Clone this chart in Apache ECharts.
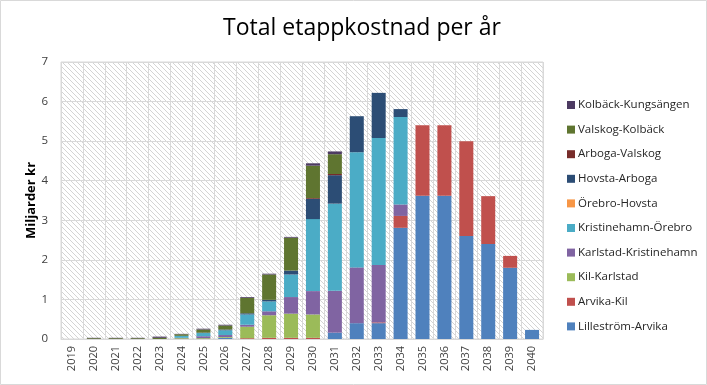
<!DOCTYPE html>
<html><head><meta charset="utf-8">
<script src="https://cdn.jsdelivr.net/npm/echarts@6/dist/echarts.min.js"></script>
<style>html,body{margin:0;padding:0;background:#fff}#c{width:707px;height:385px}</style>
</head><body><div id="c"></div>
<script>
var years = ['2019','2020','2021','2022','2023','2024','2025','2026','2027','2028','2029','2030','2031','2032','2033','2034','2035','2036','2037','2038','2039','2040'];
var yTicks = [0,1,2,3,4,5,6,7];
//                          2019 2020 2021 2022 2023 2024 2025 2026 2027 2028 2029 2030 2031 2032 2033 2034 2035 2036 2037 2038 2039 2040
var lillestromArvika      = [0,   0,   0,   0,   0,   0,   0,   0.03,0,   0,   0,   0,   0.16,0.4, 0.4, 2.81,3.62,3.62,2.6, 2.4, 1.8, 0.23];
var arvikaKil             = [0,   0,   0,   0,   0,   0,   0,   0,   0.02,0.03,0.03,0.03,0,   0,   0.02,0.3, 1.78,1.78,2.4, 1.21,0.3, 0];
var kilKarlstad           = [0,   0,   0,   0,   0,   0.02,0.02,0.02,0.29,0.57,0.61,0.59,0,   0,   0,   0,   0,   0,   0,   0,   0,   0];
var karlstadKristinehamn  = [0,   0,   0,   0,   0,   0.01,0.05,0.05,0.05,0.1, 0.42,0.59,1.06,1.41,1.45,0.29,0,   0,   0,   0,   0,   0];
var kristinehamnOrebro    = [0,   0,   0,   0,   0,   0.05,0.08,0.12,0.26,0.25,0.57,1.82,2.2, 2.91,3.21,2.21,0,   0,   0,   0,   0,   0];
var orebroHovsta          = [0,   0,   0,   0,   0,   0,   0,   0,   0,   0,   0,   0,   0,   0,   0,   0,   0,   0,   0,   0,   0,   0];
var hovstaArboga          = [0,   0,   0,   0,   0,   0,   0.01,0.02,0.03,0.04,0.1, 0.51,0.72,0.91,1.14,0.2, 0,   0,   0,   0,   0,   0];
var arbogaValskog         = [0,   0,   0,   0,   0,   0,   0,   0,   0,   0,   0,   0.02,0.03,0,   0,   0,   0,   0,   0,   0,   0,   0];
var valskogKolback        = [0,   0.02,0.02,0.02,0.03,0.04,0.08,0.1, 0.39,0.64,0.83,0.82,0.5, 0,   0,   0,   0,   0,   0,   0,   0,   0];
var kolbackKungsangen     = [0,   0.01,0.01,0.01,0.03,0.01,0.02,0.02,0.02,0.02,0.02,0.06,0.07,0,   0,   0,   0,   0,   0,   0,   0,   0];

var seriesDefs = [
  ['Lilleström-Arvika', lillestromArvika, '#4F81BD'],
  ['Arvika-Kil', arvikaKil, '#C0504D'],
  ['Kil-Karlstad', kilKarlstad, '#9BBB59'],
  ['Karlstad-Kristinehamn', karlstadKristinehamn, '#8064A2'],
  ['Kristinehamn-Örebro', kristinehamnOrebro, '#4BACC6'],
  ['Örebro-Hovsta', orebroHovsta, '#F79646'],
  ['Hovsta-Arboga', hovstaArboga, '#2C4D75'],
  ['Arboga-Valskog', arbogaValskog, '#772C2A'],
  ['Valskog-Kolbäck', valskogKolback, '#5F7530'],
  ['Kolbäck-Kungsängen', kolbackKungsangen, '#4D3B62']
];

// hatch pattern
var pc = document.createElement('canvas');
pc.width = 5; pc.height = 5;
var ctx = pc.getContext('2d');
ctx.fillStyle = '#ffffff'; ctx.fillRect(0,0,5,5);
ctx.strokeStyle = '#d4d4d4'; ctx.lineWidth = 1;
ctx.beginPath();
ctx.moveTo(-1,-1); ctx.lineTo(6,6);
ctx.moveTo(-1,4); ctx.lineTo(1,6);
ctx.moveTo(4,-1); ctx.lineTo(6,1);
ctx.stroke();

var font = 'Open Sans';
var chart = echarts.init(document.getElementById('c'), null, {renderer:'canvas'});
chart.setOption({
  animation: false,
  backgroundColor: '#ffffff',
  textStyle: {fontFamily: font},
  title: {
    text: 'Total etappkostnad per år',
    left: 357, textAlign: 'center', top: 12,
    textStyle: {fontFamily: font, fontSize: 23, fontWeight: 'normal', color: '#000000'}
  },
  graphic: [{type:'rect', shape:{x:0.5,y:0.5,width:706,height:384}, style:{fill:'none', stroke:'#d9d9d9', lineWidth:1}, silent:true}],
  legend: {
    orient: 'vertical', left: 562, top: 93,
    itemWidth: 8, itemHeight: 8, itemGap: 10.6,
    icon: 'rect',
    textStyle: {fontFamily: font, fontSize: 11.5, color: '#262626', lineHeight: 14, padding:[0,0,0,-2]},
    data: seriesDefs.map(function(s){return s[0];}).reverse()
  },
  grid: {
    left: 61, right: 164, top: 62, bottom: 46, show: true,
    backgroundColor: {image: pc, repeat: 'repeat'},
    borderColor: '#d9d9d9', borderWidth: 1
  },
  xAxis: {
    type: 'category', data: years, boundaryGap: true,
    axisLine: {show: true, lineStyle: {color: '#d9d9d9'}},
    axisTick: {show: false},
    splitLine: {show: true, lineStyle: {color: '#d9d9d9'}},
    axisLabel: {rotate: 90, interval: 0, fontFamily: font, fontSize: 11, color: '#404040', margin: 7}
  },
  yAxis: {
    type: 'value', min: yTicks[0], max: yTicks[yTicks.length-1], interval: 1,
    name: 'Miljarder kr', nameLocation: 'middle', nameGap: 23, nameRotate: 90, nameMoveOverlap: false,
    nameTextStyle: {fontFamily: font, fontSize: 13, fontWeight: 'bold', color: '#000000'},
    axisLine: {show: false}, axisTick: {show: false},
    splitLine: {lineStyle: {color: '#d9d9d9'}},
    axisLabel: {fontFamily: font, fontSize: 11.5, color: '#404040', margin: 13}
  },
  series: seriesDefs.map(function(s){
    return {name: s[0], type: 'bar', stack: 'total', data: s[1], barCategoryGap: '36%',
            itemStyle: {color: s[2]}};
  })
});
</script></body></html>
